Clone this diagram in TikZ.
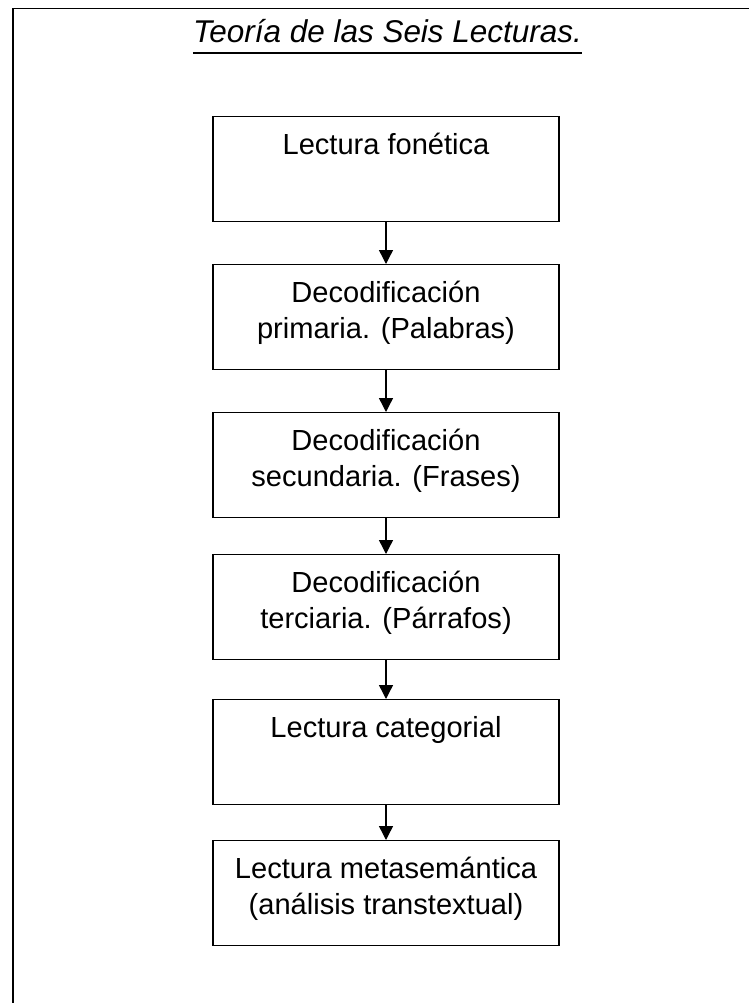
\documentclass[tikz,border=0pt]{standalone}
\usepackage{fontspec}
\setmainfont{Liberation Sans}
\usetikzlibrary{arrows.meta,calc}
\tikzset{
  stepbox/.style={draw=black, line width=1.05pt, rectangle, minimum width=259.5pt, minimum height=78.75pt, inner sep=0pt, anchor=north},
  boxtext/.style={inner sep=0pt, anchor=base, font=\fontsize{21.8}{27}\selectfont},
  flow/.style={draw=black, line width=1.05pt, -{Triangle[width=10.5pt,length=10.5pt]}},
  borderline/.style={draw=black, line width=1.1pt},
}
\newcommand{\twolines}[2]{\begin{tabular}[t]{@{}c@{}}#1\\#2\end{tabular}}
\begin{document}
\begin{tikzpicture}[x=0.75pt,y=-0.75pt]
\useasboundingbox (0,0) rectangle (749,1003);
% frame (top and left only)
\coordinate (fbl) at (13,1003);
\coordinate (ftl) at (13,8.5);
\coordinate (ftr) at (749,8.5);
\draw[borderline] (fbl) -- (ftl) -- (ftr);
% title
\node[inner sep=0pt, anchor=base, font=\fontsize{23.6}{28}\selectfont\itshape] (title) at (387.5,42) {Teoría de las Seis Lecturas.};
\draw[line width=1.35pt] ($(title.base west)+(0,11)$) -- ($(title.base east)+(0,11)$);
% boxes
\node[stepbox] (b1) at (386,116) {};
\node[stepbox] (b2) at (386,264) {};
\node[stepbox] (b3) at (386,412) {};
\node[stepbox] (b4) at (386,554) {};
\node[stepbox] (b5) at (386,699) {};
\node[stepbox] (b6) at (386,840) {};
% texts
\node[boxtext] (t1) at ($(b1.north)+(0,38)$) {Lectura fonética};
\node[boxtext] (t2) at ($(b2.north)+(0,38)$) {\twolines{Decodificación}{primaria. (Palabras)}};
\node[boxtext] (t3) at ($(b3.north)+(0,38)$) {\twolines{Decodificación}{secundaria. (Frases)}};
\node[boxtext] (t4) at ($(b4.north)+(0,38)$) {\twolines{Decodificación}{terciaria. (Párrafos)}};
\node[boxtext] (t5) at ($(b5.north)+(0,38)$) {Lectura categorial};
\node[boxtext] (t6) at ($(b6.north)+(0,38)$) {\twolines{Lectura metasemántica}{(análisis transtextual)}};
% arrows
\draw[flow] (b1.south) -- (b2.north);
\draw[flow] (b2.south) -- (b3.north);
\draw[flow] (b3.south) -- (b4.north);
\draw[flow] (b4.south) -- (b5.north);
\draw[flow] (b5.south) -- (b6.north);
\end{tikzpicture}
\end{document}
